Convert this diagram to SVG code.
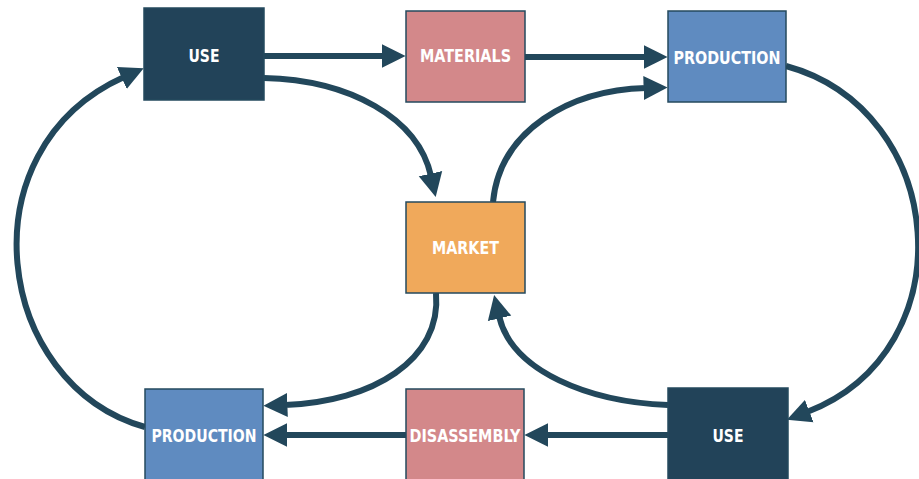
<svg xmlns="http://www.w3.org/2000/svg" width="919" height="479" viewBox="0 0 919 479">
<defs>
<style>
.box{stroke:#244a5e;stroke-width:1.5}
.use{fill:#224359}
.mat{fill:#d3888a}
.prod{fill:#5f8bc0}
.mkt{fill:#f0a95b}
.lbl{font-family:"DejaVu Sans Condensed","DejaVu Sans",sans-serif;font-weight:bold;font-size:18px;fill:#ffffff;text-anchor:middle;dominant-baseline:central}
.c{fill:none;stroke:#22475b;stroke-width:6}
</style>
<marker id="ah" viewBox="0 0 10 10" refX="1" refY="5" markerUnits="userSpaceOnUse" markerWidth="24" markerHeight="25" orient="auto">
<path d="M0,0 L10,5 L0,10 z" fill="#22475b"/>
</marker>
</defs>
<rect width="919" height="479" fill="#ffffff"/>
<g id="connectors">
<path class="c" d="M264 56 L384 56" marker-end="url(#ah)"/>
<path class="c" d="M525 57 L646 57" marker-end="url(#ah)"/>
<path class="c" d="M264 78 C350 80 418 118 431 176" marker-end="url(#ah)"/>
<path class="c" d="M493 202 C500 130 570 90 646 88" marker-end="url(#ah)"/>
<path class="c" d="M786 66 C948 110 968 350 807 412" marker-end="url(#ah)"/>
<path class="c" d="M668 405 C590 402 512 372 499 316" marker-end="url(#ah)"/>
<path class="c" d="M668 435 L546 435" marker-end="url(#ah)"/>
<path class="c" d="M406 435 L285 435" marker-end="url(#ah)"/>
<path class="c" d="M436 293 C442 360 372 402 285 405" marker-end="url(#ah)"/>
<path class="c" d="M145 427 C-5 385 -38 150 124 77" marker-end="url(#ah)"/>
</g>
<g id="use-top">
<rect class="box use" x="144" y="8" width="120" height="92"/>
<text class="lbl" x="204" y="55" textLength="31" lengthAdjust="spacingAndGlyphs">USE</text>
</g>
<g id="materials">
<rect class="box mat" x="406" y="11" width="119" height="91"/>
<text class="lbl" x="465.5" y="55" textLength="91" lengthAdjust="spacingAndGlyphs">MATERIALS</text>
</g>
<g id="production-top">
<rect class="box prod" x="668" y="11" width="118" height="91"/>
<text class="lbl" x="727" y="57" textLength="107" lengthAdjust="spacingAndGlyphs">PRODUCTION</text>
</g>
<g id="market">
<rect class="box mkt" x="406" y="202" width="119" height="91"/>
<text class="lbl" x="465.5" y="247" textLength="67" lengthAdjust="spacingAndGlyphs">MARKET</text>
</g>
<g id="production-bottom">
<rect class="box prod" x="145" y="389" width="118" height="95"/>
<text class="lbl" x="204" y="435" textLength="105" lengthAdjust="spacingAndGlyphs">PRODUCTION</text>
</g>
<g id="disassembly">
<rect class="box mat" x="406" y="389" width="118" height="95"/>
<text class="lbl" x="465" y="435" textLength="111" lengthAdjust="spacingAndGlyphs">DISASSEMBLY</text>
</g>
<g id="use-bottom">
<rect class="box use" x="668" y="388" width="120" height="96"/>
<text class="lbl" x="728" y="435" textLength="31" lengthAdjust="spacingAndGlyphs">USE</text>
</g>
</svg>
